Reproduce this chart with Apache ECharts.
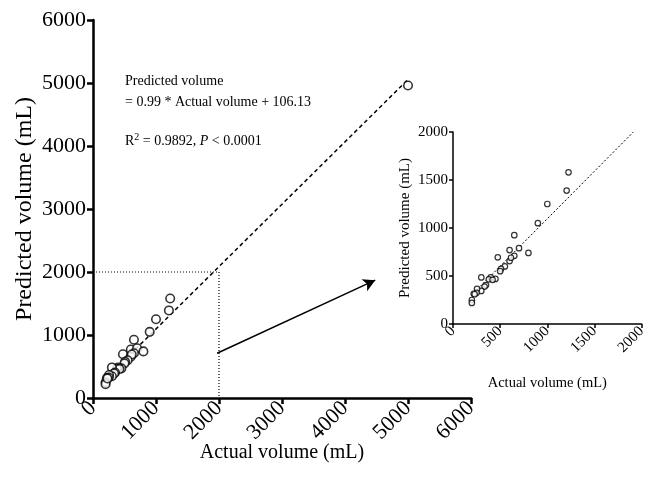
<!DOCTYPE html>
<html><head><meta charset="utf-8">
<script src="https://cdn.jsdelivr.net/npm/echarts@6/dist/echarts.min.js"></script>
<style>html,body{margin:0;padding:0;background:#fff}#c{width:649px;height:492px}</style>
</head><body><div id="c"></div>
<script>
// Measured data (actual vs predicted volume, mL)
const actualVolume    = [1225,1205,1000,900,650,475,600,700,800,650,600,615,550,510,500,450,400,380,420,300,350,335,300,255,250,220,200,200,230];
const predictedVolume = [1580,1390,1250,1050,925,695,770,790,740,710,655,690,600,575,550,470,485,465,460,485,405,390,345,365,325,315,250,220,310];
const outlierActual = [5000];
const outlierPredicted = [4960];
// Regression line endpoints: Predicted = 0.99*Actual + 106.13
const fitMainX = [200, 5000];
const fitMainY = [304, 5056];
const fitInsetX = [200, 1913];
const fitInsetY = [304, 2000];
// Zoom guide (dotted)
const guideX = [0, 2000, 2000];
const guideY = [2000, 2000, 0];
// Arrow (data coords of main chart)
const arrowFrom = [1970, 710];
const arrowTo = [4480, 1870];
// Tick settings
const mainMax = 6000, mainInterval = 1000;
const insetMax = 2000, insetInterval = 500;

const FONT = 'Liberation Serif';
const pts = actualVolume.map((x,i)=>[x, predictedVolume[i]]);
const mainPts = pts.concat(outlierActual.map((x,i)=>[x, outlierPredicted[i]]));

function axis(gridIndex, max, interval, big, name, isX){
  return {
    gridIndex, type:'value', min:0, max, interval,
    name, nameLocation:'middle', nameMoveOverlap:false,
    nameGap: isX ? (big?45:52) : (big?56:40),
    nameTextStyle:{fontFamily:FONT, fontSize: big?(isX?20:24):(isX?14.5:15), color:'#000'},
    axisLine:{show:true, onZero:false, lineStyle:{color:'#000', width: big?2.5:1.5}},
    axisTick:{show:true, length: big?6:4, lineStyle:{color:'#000', width: big?2.5:1.5}},
    axisLabel:{fontFamily:FONT, fontSize: big?22:15, color:'#000', rotate: isX?45:0, margin: big?7:5,
      formatter: v => String(v)},
    splitLine:{show:false}
  };
}

const chart = echarts.init(document.getElementById('c'));
chart.setOption({
  animation:false,
  backgroundColor:'#fff',
  grid:[
    {left:93, top:20, width:378, height:378},
    {left:453, top:132, width:192, height:192}
  ],
  xAxis:[axis(0,mainMax,mainInterval,true,'Actual volume (mL)',true), axis(1,insetMax,insetInterval,false,'Actual volume (mL)',true)],
  yAxis:[axis(0,mainMax,mainInterval,true,'Predicted volume (mL)',false), axis(1,insetMax,insetInterval,false,'Predicted volume (mL)',false)],
  series:[
    {type:'line', xAxisIndex:0, yAxisIndex:0, data: guideX.map((x,i)=>[x,guideY[i]]), symbol:'none',
     lineStyle:{color:'#000', width:1.2, type:[1,2]}, z:1,
     markLine:{silent:true, symbol:['none','arrow'], symbolSize:[10,12], label:{show:false},
       lineStyle:{color:'#000', width:1.5, type:'solid'},
       data:[[{coord:arrowFrom},{coord:arrowTo}]]}},
    {type:'line', xAxisIndex:0, yAxisIndex:0, data: fitMainX.map((x,i)=>[x,fitMainY[i]]), symbol:'none',
     lineStyle:{color:'#000', width:1.5, type:[4,3]}, z:2},
    {type:'scatter', xAxisIndex:0, yAxisIndex:0, data: mainPts, symbol:'circle', symbolSize:8.5,
     itemStyle:{color:'#fff', borderColor:'#000', borderWidth:1.6}, z:3},
    {type:'line', xAxisIndex:1, yAxisIndex:1, data: fitInsetX.map((x,i)=>[x,fitInsetY[i]]), symbol:'none',
     lineStyle:{color:'#000', width:1, type:[2,2]}, z:2},
    {type:'scatter', xAxisIndex:1, yAxisIndex:1, data: pts, symbol:'circle', symbolSize:5.5,
     itemStyle:{color:'#fff', borderColor:'#000', borderWidth:1.2}, z:3}
  ],
  graphic:[
    {type:'text', left:125, top:71, style:{text:'Predicted volume\n= 0.99 * Actual volume + 106.13', font:'14px "Liberation Serif"', fill:'#000', lineHeight:21}},
    {type:'text', left:125, top:132, style:{
      text:'R{sup|2} = 0.9892, {i|P} < 0.0001', font:'14px "Liberation Serif"', fill:'#000',
      rich:{sup:{fontSize:10, fontFamily:FONT, verticalAlign:'top', padding:[0,0,8,0]}, i:{fontStyle:'italic', fontSize:14, fontFamily:FONT}}}}
  ]
});
</script></body></html>
